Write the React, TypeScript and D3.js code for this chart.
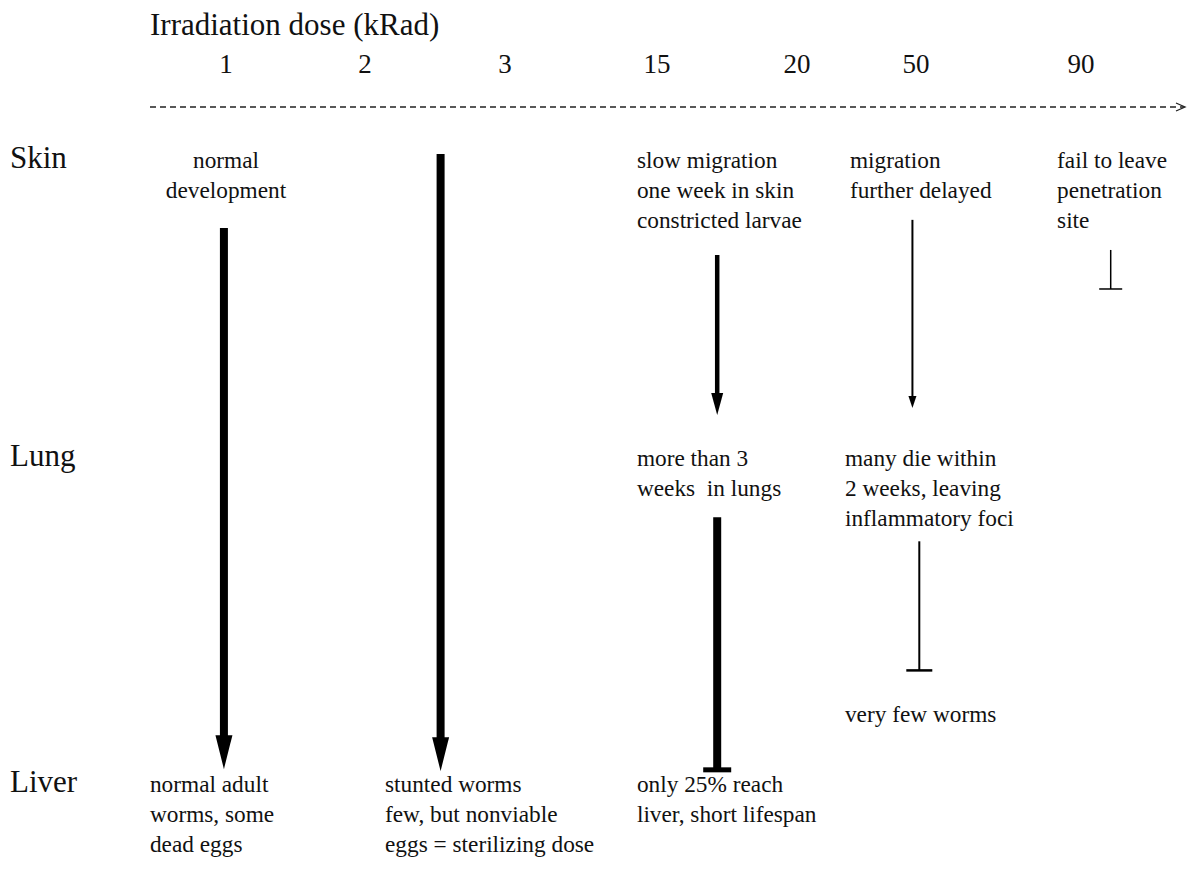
import React from "react";
import * as d3 from "d3";

// ---- data ----
const doses = ["1", "2", "3", "15", "20", "50", "90"];
const organs = ["Skin", "Lung", "Liver"];
const title = "Irradiation dose (kRad)";

// arrows: lane = continuous dose index, s0/s1 = stage (0 skin, 1 lung, 2 liver)
type Arrow = { lane: number; s0: number; s1: number; end: "arrow" | "block"; weight: "heavy" | "medium" | "light" | "hair" };
const arrows: Arrow[] = [
  { lane: -0.015, s0: 0.201, s1: 1.93, end: "arrow", weight: "heavy" },
  { lane: 1.54, s0: -0.047, s1: 1.936, end: "arrow", weight: "heavy" },
  { lane: 3.43, s0: 0.292, s1: 0.829, end: "arrow", weight: "medium" },
  { lane: 3.43, s0: 1.157, s1: 1.932, end: "block", weight: "heavy" },
  { lane: 4.97, s0: 0.174, s1: 0.805, end: "arrow", weight: "light" },
  { lane: 5.02, s0: 1.231, s1: 1.627, end: "block", weight: "light" },
  { lane: 6.18, s0: 0.275, s1: 0.406, end: "block", weight: "hair" },
];

type Note = { lines: string[]; lane: number; stage: number; anchor: "start" | "middle" };
const notes: Note[] = [
  { lines: ["normal", "development"], lane: 0, stage: 0, anchor: "middle" },
  { lines: ["slow migration", "one week in skin", "constricted larvae"], lane: 2.868, stage: 0, anchor: "start" },
  { lines: ["migration", "further delayed"], lane: 4.445, stage: 0, anchor: "start" },
  { lines: ["fail to leave", "penetration", "site"], lane: 5.855, stage: 0, anchor: "start" },
  { lines: ["more than 3", "weeks  in lungs"], lane: 2.868, stage: 1, anchor: "start" },
  { lines: ["many die within", "2 weeks, leaving", "inflammatory foci"], lane: 4.403, stage: 1, anchor: "start" },
  { lines: ["very few worms"], lane: 4.403, stage: 1.784, anchor: "start" },
  { lines: ["normal adult", "worms, some", "dead eggs"], lane: -0.547, stage: 2, anchor: "start" },
  { lines: ["stunted worms", "few, but nonviable", "eggs = sterilizing dose"], lane: 1.143, stage: 2, anchor: "start" },
  { lines: ["only 25% reach", "liver, short lifespan"], lane: 2.868, stage: 2, anchor: "start" },
];

// ---- layout ----
const W = 1193;
const H = 879;
const FONT = "Liberation Serif, DejaVu Serif, serif";

const laneX = d3.scaleLinear().domain([0, 1, 2, 3, 4, 5, 6]).range([226, 365, 505, 657, 797, 916, 1081]);
const stageY = d3.scaleLinear().domain([0, 1, 2]).range([168, 466, 792]);
const organY = d3.scalePoint<string>().domain(organs).range([0, 2]);

const weights = {
  heavy: { shaft: 8, headW: 17, headL: 34, bar: 28, barT: 5 },
  medium: { shaft: 4.5, headW: 12, headL: 22, bar: 24, barT: 4 },
  light: { shaft: 2, headW: 8, headL: 12, bar: 26, barT: 2.5 },
  hair: { shaft: 1.5, headW: 7, headL: 10, bar: 23, barT: 1.5 },
};

export default function App() {
  const axisY = 107;
  const axisX0 = 150;
  const axisX1 = 1185;
  return (
    <svg width={W} height={H} style={{ display: "block", position: "absolute", left: 0, top: 0, background: "#fff", fontFamily: FONT }}>
      <rect width={W} height={H} fill="#fff" />
      <g style={{ fontFamily: FONT }} fill="#111">
        <text x={150} y={35} fontSize={31}>{title}</text>
        {doses.map((d, i) => (
          <text key={d} x={laneX(i)} y={73} fontSize={27} textAnchor="middle">{d}</text>
        ))}
        {organs.map((o) => (
          <text key={o} x={10} y={stageY(organY(o) as number)} fontSize={31}>{o}</text>
        ))}
        {notes.map((n, i) => (
          <text key={i} x={laneX(n.lane)} y={stageY(n.stage)} fontSize={23.3} textAnchor={n.anchor} style={{ whiteSpace: "pre" }}>
            {n.lines.map((l, j) => (
              <tspan key={j} x={laneX(n.lane)} dy={j === 0 ? 0 : 30}>{l}</tspan>
            ))}
          </text>
        ))}
      </g>
      <line x1={axisX0} x2={axisX1 - 1} y1={axisY} y2={axisY} stroke="#222" strokeWidth={1.3} strokeDasharray="6 4" />
      <path d={`M${axisX1 - 9},${axisY - 4} L${axisX1},${axisY} L${axisX1 - 9},${axisY + 4}`} fill="none" stroke="#222" strokeWidth={1.3} />

      {arrows.map((a, i) => {
        const w = weights[a.weight];
        const x = laneX(a.lane);
        const y0 = stageY(a.s0);
        const y1 = stageY(a.s1);
        if (a.end === "arrow") {
          const yb = y1 - w.headL;
          return (
            <g key={i}>
              <line x1={x} x2={x} y1={y0} y2={yb + 1} stroke="#000" strokeWidth={w.shaft} />
              <path d={`M${x - w.headW / 2},${yb} L${x + w.headW / 2},${yb} L${x},${y1} Z`} fill="#000" />
            </g>
          );
        }
        return (
          <g key={i}>
            <line x1={x} x2={x} y1={y0} y2={y1} stroke="#000" strokeWidth={w.shaft} />
            <line x1={x - w.bar / 2} x2={x + w.bar / 2} y1={y1} y2={y1} stroke="#000" strokeWidth={w.barT} />
          </g>
        );
      })}
    </svg>
  );
}
